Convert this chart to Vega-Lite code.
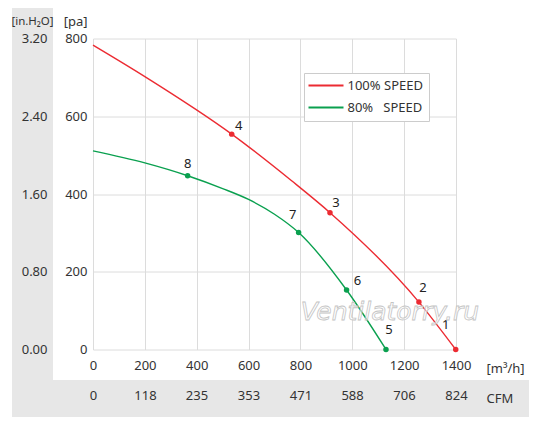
{
  "$schema": "https://vega.github.io/schema/vega-lite/v6.json",
  "width": 363,
  "height": 311,
  "autosize": "none",
  "padding": {"left": 93, "top": 38.5, "right": 85, "bottom": 75.5},
  "background": "white",
  "config": {
    "view": {"stroke": null},
    "font": "Noto Sans",
    "axis": {
      "labelFont": "Noto Sans",
      "labelFontSize": 13,
      "labelColor": "#333333",
      "titleFont": "Noto Sans",
      "titleFontSize": 13,
      "titleFontWeight": "normal",
      "titleColor": "#333333",
      "ticks": false,
      "domain": false,
      "gridColor": "#dcdcdc",
      "gridWidth": 1,
      "labelOverlap": false,
      "labelFlush": false
    }
  },
  "datasets": {
    "curves": [
      {"series": "100% SPEED", "m3h": 0, "pa": 783},
      {"series": "100% SPEED", "m3h": 200, "pa": 702},
      {"series": "100% SPEED", "m3h": 535, "pa": 554},
      {"series": "100% SPEED", "m3h": 766, "pa": 434},
      {"series": "100% SPEED", "m3h": 914, "pa": 352},
      {"series": "100% SPEED", "m3h": 1257, "pa": 122},
      {"series": "100% SPEED", "m3h": 1399, "pa": 0},
      {"series": "80%\u00a0\u00a0\u00a0SPEED", "m3h": 0, "pa": 511},
      {"series": "80%\u00a0\u00a0\u00a0SPEED", "m3h": 200, "pa": 480},
      {"series": "80%\u00a0\u00a0\u00a0SPEED", "m3h": 365, "pa": 447},
      {"series": "80%\u00a0\u00a0\u00a0SPEED", "m3h": 500, "pa": 414},
      {"series": "80%\u00a0\u00a0\u00a0SPEED", "m3h": 600, "pa": 386},
      {"series": "80%\u00a0\u00a0\u00a0SPEED", "m3h": 700, "pa": 348},
      {"series": "80%\u00a0\u00a0\u00a0SPEED", "m3h": 793, "pa": 301},
      {"series": "80%\u00a0\u00a0\u00a0SPEED", "m3h": 978, "pa": 153},
      {"series": "80%\u00a0\u00a0\u00a0SPEED", "m3h": 1130, "pa": 0}
    ],
    "points": [
      {"series": "100% SPEED", "id": "1", "m3h": 1399, "pa": 0},
      {"series": "100% SPEED", "id": "2", "m3h": 1257, "pa": 122},
      {"series": "100% SPEED", "id": "3", "m3h": 914, "pa": 352},
      {"series": "100% SPEED", "id": "4", "m3h": 535, "pa": 554},
      {"series": "80%\u00a0\u00a0\u00a0SPEED", "id": "5", "m3h": 1130, "pa": 0},
      {"series": "80%\u00a0\u00a0\u00a0SPEED", "id": "6", "m3h": 978, "pa": 153},
      {"series": "80%\u00a0\u00a0\u00a0SPEED", "id": "7", "m3h": 793, "pa": 301},
      {"series": "80%\u00a0\u00a0\u00a0SPEED", "id": "8", "m3h": 365, "pa": 447}
    ]
  },
  "layer": [
    {
      "layer": [
        {
          "data": {"values": [{}]},
          "mark": {"type": "rect", "color": "#e7e7e7"},
          "encoding": {
            "x": {
              "datum": -312.4, "type": "quantitative",
              "scale": {"domain": [0, 1400], "nice": false},
              "axis": {
                "values": [0, 100, 200, 300, 400, 500, 600, 700, 800, 900, 1000, 1100, 1200, 1300, 1400],
                "labelExpr": "datum.value % 200 == 0 ? datum.label : ''",
                "format": "d",
                "labelPadding": 10,
                "grid": true,
                "title": "[m³/h]",
                "titleX": 393,
                "titleY": 18.5,
                "titleAlign": "left",
                "titleBaseline": "middle"
              }
            },
            "x2": {"datum": -154.3},
            "y": {
              "datum": -173.6, "type": "quantitative",
              "scale": {"domain": [0, 800], "nice": false},
              "axis": {
                "values": [0, 100, 200, 300, 400, 500, 600, 700, 800],
                "labelExpr": "datum.value % 200 == 0 ? datum.label : ''",
                "format": "d",
                "labelPadding": 6,
                "grid": true,
                "title": "[pa]",
                "titleAngle": 0,
                "titleX": -6,
                "titleY": -17,
                "titleAlign": "right",
                "titleBaseline": "middle"
              }
            },
            "y2": {"datum": 878.5}
          }
        },
        {
          "data": {"values": [{}]},
          "mark": {"type": "rect", "color": "#e7e7e7"},
          "encoding": {
            "x": {"datum": -312.4, "type": "quantitative", "scale": {"domain": [0, 1400], "nice": false}},
            "x2": {"datum": 1681.5},
            "y": {"datum": -173.6, "type": "quantitative", "scale": {"domain": [0, 800], "nice": false}},
            "y2": {"datum": -78.5}
          }
        },
        {
          "data": {"name": "curves"},
          "mark": {"type": "line", "interpolate": "monotone", "strokeWidth": 1.4},
          "encoding": {
            "x": {"field": "m3h", "type": "quantitative", "scale": {"domain": [0, 1400], "nice": false}},
            "y": {"field": "pa", "type": "quantitative", "scale": {"domain": [0, 800], "nice": false}},
            "color": {
              "field": "series", "type": "nominal",
              "scale": {"domain": ["100% SPEED", "80%\u00a0\u00a0\u00a0SPEED"], "range": ["#ec2b32", "#0aa04f"]},
              "legend": {
                "orient": "none",
                "legendX": 211,
                "legendY": 34.5,
                "title": null,
                "symbolType": "M-3.5,0H3.5",
                "symbolSize": 100,
                "symbolOffset": 9.5,
                "symbolStrokeWidth": 2,
                "symbolFillColor": "transparent",
                "labelFont": "Noto Sans",
                "labelFontSize": 13,
                "labelColor": "#333333",
                "labelOffset": 15,
                "fillColor": "white",
                "strokeColor": "#cccccc",
                "padding": 6,
                "rowPadding": 8
              }
            }
          }
        },
        {
          "data": {"name": "points"},
          "mark": {"type": "circle", "size": 30, "opacity": 1},
          "encoding": {
            "x": {"field": "m3h", "type": "quantitative", "scale": {"domain": [0, 1400], "nice": false}},
            "y": {"field": "pa", "type": "quantitative", "scale": {"domain": [0, 800], "nice": false}},
            "color": {"field": "series", "type": "nominal"}
          }
        },
        {
          "data": {"name": "points"},
          "transform": [{"filter": "datum.id == '1'"}],
          "mark": {"type": "text", "dx": -10, "dy": -25, "fontSize": 13, "color": "#222222", "baseline": "middle"},
          "encoding": {"x": {"field": "m3h", "type": "quantitative"}, "y": {"field": "pa", "type": "quantitative"}, "text": {"field": "id"}}
        },
        {
          "data": {"name": "points"},
          "transform": [{"filter": "datum.id == '2'"}],
          "mark": {"type": "text", "dx": 4, "dy": -14, "fontSize": 13, "color": "#222222", "baseline": "middle"},
          "encoding": {"x": {"field": "m3h", "type": "quantitative"}, "y": {"field": "pa", "type": "quantitative"}, "text": {"field": "id"}}
        },
        {
          "data": {"name": "points"},
          "transform": [{"filter": "datum.id == '3'"}],
          "mark": {"type": "text", "dx": 6, "dy": -10, "fontSize": 13, "color": "#222222", "baseline": "middle"},
          "encoding": {"x": {"field": "m3h", "type": "quantitative"}, "y": {"field": "pa", "type": "quantitative"}, "text": {"field": "id"}}
        },
        {
          "data": {"name": "points"},
          "transform": [{"filter": "datum.id == '4'"}],
          "mark": {"type": "text", "dx": 7, "dy": -8, "fontSize": 13, "color": "#222222", "baseline": "middle"},
          "encoding": {"x": {"field": "m3h", "type": "quantitative"}, "y": {"field": "pa", "type": "quantitative"}, "text": {"field": "id"}}
        },
        {
          "data": {"name": "points"},
          "transform": [{"filter": "datum.id == '5'"}],
          "mark": {"type": "text", "dx": 3, "dy": -20, "fontSize": 13, "color": "#222222", "baseline": "middle"},
          "encoding": {"x": {"field": "m3h", "type": "quantitative"}, "y": {"field": "pa", "type": "quantitative"}, "text": {"field": "id"}}
        },
        {
          "data": {"name": "points"},
          "transform": [{"filter": "datum.id == '6'"}],
          "mark": {"type": "text", "dx": 11, "dy": -9, "fontSize": 13, "color": "#222222", "baseline": "middle"},
          "encoding": {"x": {"field": "m3h", "type": "quantitative"}, "y": {"field": "pa", "type": "quantitative"}, "text": {"field": "id"}}
        },
        {
          "data": {"name": "points"},
          "transform": [{"filter": "datum.id == '7'"}],
          "mark": {"type": "text", "dx": -6, "dy": -17, "fontSize": 13, "color": "#222222", "baseline": "middle"},
          "encoding": {"x": {"field": "m3h", "type": "quantitative"}, "y": {"field": "pa", "type": "quantitative"}, "text": {"field": "id"}}
        },
        {
          "data": {"name": "points"},
          "transform": [{"filter": "datum.id == '8'"}],
          "mark": {"type": "text", "dx": 0, "dy": -12, "fontSize": 13, "color": "#222222", "baseline": "middle"},
          "encoding": {"x": {"field": "m3h", "type": "quantitative"}, "y": {"field": "pa", "type": "quantitative"}, "text": {"field": "id"}}
        },
        {
          "data": {"values": [{"t": "Ventilatorry.ru"}]},
          "mark": {"type": "text", "font": "DejaVu Sans", "fontStyle": "italic", "fontSize": 25, "fill": "white", "fillOpacity": 0.55, "stroke": "#c4c4c4", "strokeWidth": 0.8, "baseline": "middle"},
          "encoding": {
            "x": {"datum": 1145, "type": "quantitative"},
            "y": {"datum": 96.5, "type": "quantitative"},
            "text": {"field": "t"}
          }
        }
      ]
    },
    {
      "data": {"values": [{}]},
      "mark": {"type": "rule", "opacity": 0},
      "encoding": {
        "y": {
          "datum": 0, "type": "quantitative",
          "scale": {"domain": [0, 3.2], "nice": false},
          "axis": {
            "orient": "left",
            "offset": 40,
            "values": [0, 0.8, 1.6, 2.4, 3.2],
            "format": ".2f",
            "labelPadding": 6,
            "grid": false,
            "zindex": 1,
            "title": "[in.H₂O]",
            "titleFontSize": 11.5,
            "titleAngle": 0,
            "titleX": -21,
            "titleY": -17,
            "titleAlign": "center",
            "titleBaseline": "middle"
          }
        }
      }
    },
    {
      "data": {"values": [{}]},
      "mark": {"type": "rule", "opacity": 0},
      "encoding": {
        "x": {
          "datum": 0, "type": "quantitative",
          "scale": {"domain": [0, 824], "nice": false},
          "axis": {
            "orient": "bottom",
            "offset": 30,
            "values": [0, 118, 235, 353, 471, 588, 706, 824],
            "format": "d",
            "labelPadding": 10,
            "grid": false,
            "zindex": 1,
            "title": "CFM",
            "titleX": 393,
            "titleY": 18.5,
            "titleAlign": "left",
            "titleBaseline": "middle"
          }
        }
      }
    }
  ],
  "resolve": {"scale": {"x": "independent", "y": "independent"}}
}
